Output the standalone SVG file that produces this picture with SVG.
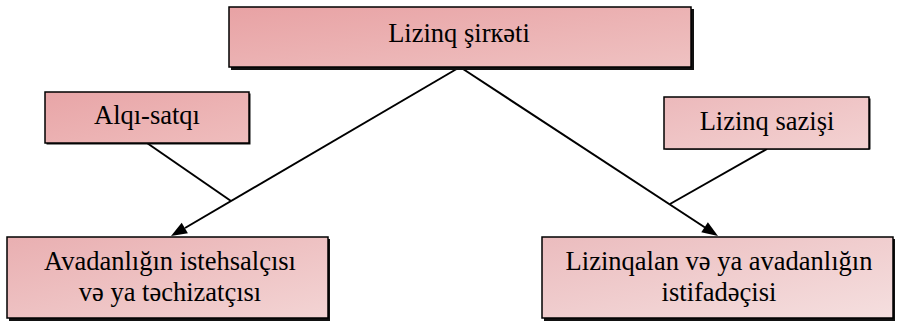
<svg xmlns="http://www.w3.org/2000/svg" width="898" height="324" viewBox="0 0 898 324">
<defs>
<linearGradient id="g1" x1="0" y1="0" x2="1" y2="1"><stop offset="0" stop-color="#e8a2a4"/><stop offset="1" stop-color="#efc2c2"/></linearGradient>
<linearGradient id="g2" x1="0" y1="0" x2="1" y2="1"><stop offset="0" stop-color="#e8a5a7"/><stop offset="1" stop-color="#efbdbd"/></linearGradient>
<linearGradient id="g3" x1="0" y1="0" x2="1" y2="1"><stop offset="0" stop-color="#ecb9bb"/><stop offset="1" stop-color="#f3d2d2"/></linearGradient>
<linearGradient id="g4" x1="0" y1="0" x2="1" y2="1"><stop offset="0" stop-color="#e9afb1"/><stop offset="1" stop-color="#f3d4d4"/></linearGradient>
<linearGradient id="g5" x1="0" y1="0" x2="1" y2="1"><stop offset="0" stop-color="#ebbcbe"/><stop offset="1" stop-color="#f5dfdf"/></linearGradient>
</defs>
<style>
.box{stroke:#000;stroke-width:1.5}
.sh{fill:#111}
.t{font-family:"Liberation Serif","Times New Roman",serif;font-size:26.5px;fill:#000;text-anchor:middle}
.ln{stroke:#000;stroke-width:2;fill:none}
.ah{fill:#000}
</style>
<g id="connectors">
<line class="ln" x1="460" y1="67" x2="185" y2="228"/>
<polygon class="ah" points="171,236 187.9,233.2 181.7,222.8"/>
<line class="ln" x1="460" y1="67" x2="705" y2="227.5"/>
<polygon class="ah" points="718,236 701.3,232.2 707.9,222.2"/>
<line class="ln" x1="147" y1="143" x2="231" y2="201"/>
<line class="ln" x1="767" y1="149" x2="670" y2="204"/>
</g>
<g id="n-top">
<rect class="sh" x="231" y="9" width="463" height="61"/>
<rect class="box" x="229" y="7" width="462" height="60" fill="url(#g1)"/>
<text class="t" x="459" y="42">Lizinq şirкəti</text>
</g>
<g id="n-alqi">
<rect class="sh" x="46.5" y="93.5" width="204" height="51"/>
<rect class="box" x="45" y="92" width="204" height="51" fill="url(#g2)"/>
<text class="t" x="147" y="124">Alqı-satqı</text>
</g>
<g id="n-sazis">
<rect class="sh" x="665.5" y="98.5" width="205" height="51"/>
<rect class="box" x="664" y="97" width="205" height="52" fill="url(#g3)"/>
<text class="t" x="767" y="130">Lizinq sazişi</text>
</g>
<g id="n-istehsalci">
<rect class="sh" x="9" y="239" width="321" height="82"/>
<rect class="box" x="7" y="237" width="321" height="81" fill="url(#g4)"/>
<text class="t" x="170" y="270">Avadanlığın istehsalçısı</text>
<text class="t" x="170" y="301">və ya təchizatçısı</text>
</g>
<g id="n-lizinqalan">
<rect class="sh" x="544" y="239" width="351" height="82"/>
<rect class="box" x="542" y="237" width="351" height="81" fill="url(#g5)"/>
<text class="t" x="719" y="270">Lizinqalan və ya avadanlığın</text>
<text class="t" x="719" y="301">istifadəçisi</text>
</g>
</svg>
